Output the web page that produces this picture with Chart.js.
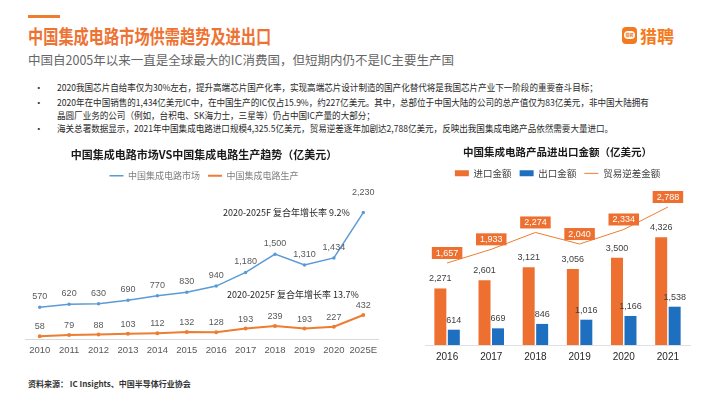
<!DOCTYPE html>
<html><head><meta charset="utf-8">
<script src="https://cdn.jsdelivr.net/npm/chart.js@4.4.0/dist/chart.umd.min.js"></script>
<style>
html,body{margin:0;padding:0;background:#fff;}
body{width:710px;height:399px;position:relative;overflow:hidden;font-family:"Noto Sans CJK SC","Noto Sans",sans-serif;}
.abs{position:absolute;white-space:nowrap;}
#topbar{left:28px;top:15px;width:32px;height:3px;background:#ED7D31;}
#title{left:28px;top:23px;font-size:19px;font-weight:700;color:#EE7232;transform:scaleX(0.8);transform-origin:left top;line-height:25px;}
#sub{left:28px;top:51px;font-size:12.5px;color:#666;line-height:18px;}
.bl{left:34px;font-size:9.5px;color:#333;line-height:13px;}
.bt{left:57px;font-size:9.5px;color:#2b2b2b;line-height:13px;transform:scaleX(0.9);transform-origin:left top;}
#logoIcon{left:622px;top:27px;width:15px;height:17px;background:#F47A20;border-radius:4px;}
#logoIcon span{position:absolute;left:2px;top:4px;width:11px;height:8px;background:#fff;border-radius:4px;font-size:4px;line-height:8px;color:#F47A20;text-align:center;font-weight:700;}
#logoText{left:640px;top:24px;font-size:17px;font-weight:700;color:#F47A20;line-height:24px;}
.ann{font-size:9px;color:#262626;line-height:12px;}
#src{left:28px;top:378px;font-size:8px;color:#333;font-weight:700;line-height:12px;}
canvas{position:absolute;}
</style>
</head>
<body>
<div class="abs" id="topbar"></div>
<div class="abs" id="title">中国集成电路市场供需趋势及进出口</div>
<div class="abs" id="sub">中国自2005年以来一直是全球最大的IC消费国，但短期内仍不是IC主要生产国</div>
<div class="abs" id="logoIcon"><span>猎聘</span></div>
<div class="abs" id="logoText">猎聘</div>
<div class="abs bl" style="top:81px">•</div>
<div class="abs bt" style="top:81px">2020我国芯片自给率仅为30%左右，提升高端芯片国产化率，实现高端芯片设计制造的国产化替代将是我国芯片产业下一阶段的重要奋斗目标；</div>
<div class="abs bl" style="top:96px">•</div>
<div class="abs bt" style="top:96px">2020年在中国销售的1,434亿美元IC中，在中国生产的IC仅占15.9%，约227亿美元。其中，总部位于中国大陆的公司的总产值仅为83亿美元，非中国大陆拥有</div>
<div class="abs bt" style="top:109px">晶圆厂业务的公司（例如，台积电、SK海力士，三星等）仍占中国IC产量的大部分；</div>
<div class="abs bl" style="top:122px">•</div>
<div class="abs bt" style="top:122px">海关总署数据显示，2021年中国集成电路进口规模4,325.5亿美元，贸易逆差逐年加剧达2,788亿美元，反映出我国集成电路产品依然需要大量进口。</div>

<canvas id="c1" width="384" height="232" style="left:0;top:140px;width:384px;height:232px"></canvas>
<canvas id="c2" width="310" height="232" style="left:400px;top:140px;width:310px;height:232px"></canvas>

<div class="abs ann" style="left:223px;top:207px">2020-2025F 复合年增长率 9.2%</div>
<div class="abs ann" style="left:227px;top:289px">2020-2025F 复合年增长率 13.7%</div>
<div class="abs" id="src">资料来源： IC Insights、中国半导体行业协会</div>

<script>
// ---- data ----
const years = ['2010','2011','2012','2013','2014','2015','2016','2017','2018','2019','2020','2025E'];
const marketValues = [570,620,630,690,770,830,940,1180,1500,1310,1434,2230];
const productionValues = [58,79,88,103,112,132,128,193,239,193,227,432];

const tradeYears = ['2016','2017','2018','2019','2020','2021'];
const importValues = [2271,2601,3121,3056,3500,4326];
const exportValues = [614,669,846,1016,1166,1538];
const deficitValues = [1657,1933,2274,2040,2334,2788];

// ---- styles ----
const NUM = '"Liberation Sans","Noto Sans CJK SC",sans-serif';
const CJK = '"Noto Sans CJK SC","Liberation Sans",sans-serif';
const ORANGE = '#ED7030';
const BLUE = '#1F6FC1';

const valueLabels = {
  id: 'valueLabels',
  afterDatasetsDraw(chart) {
    const ctx = chart.ctx;
    chart.data.datasets.forEach((ds, i) => {
      const st = ds.labelStyle;
      if (!st) return;
      const meta = chart.getDatasetMeta(i);
      meta.data.forEach((el, j) => {
        const txt = ds.data[j].toLocaleString('en-US');
        const off = (st.offsets && st.offsets[j] != null) ? st.offsets[j] : st.offset;
        const x = el.x, y = el.y - off;
        ctx.save();
        ctx.font = st.size + 'px ' + NUM;
        ctx.textAlign = 'center';
        ctx.textBaseline = 'middle';
        if (st.box) {
          const w = ctx.measureText(txt).width + 8;
          ctx.fillStyle = st.box;
          ctx.fillRect(x - w / 2, y - 6, w, 12);
          ctx.fillStyle = '#fff';
        } else {
          ctx.fillStyle = st.color;
        }
        ctx.fillText(txt, x, y + 0.5);
        ctx.restore();
      });
    });
  }
};

new Chart(document.getElementById('c1'), {
  type: 'line',
  data: {
    labels: years,
    datasets: [
      { label: '中国集成电路市场', data: marketValues, borderColor: '#5B9BD5', backgroundColor: '#5B9BD5',
        borderWidth: 1.5, pointRadius: 1, pointBorderWidth: 1.5, tension: 0,
        labelStyle: { size: 9, color: '#595959', offset: 11, offsets: [null,null,null,null,null,null,null,null,null,null,null,21] } },
      { label: '中国集成电路生产', data: productionValues, borderColor: '#ED7D31', backgroundColor: '#ED7D31',
        borderWidth: 2, pointRadius: 1, pointBorderWidth: 2, tension: 0,
        labelStyle: { size: 9, color: '#595959', offset: 10 } }
    ]
  },
  options: {
    responsive: false, animation: false,
    layout: { padding: { left: 25, right: 1, top: 0, bottom: 11 } },
    plugins: {
      title: { display: true, text: '中国集成电路市场VS中国集成电路生产趋势（亿美元）', color: '#1a1a1a',
        font: { size: 11, weight: 'bold', family: CJK }, padding: { top: 8, bottom: 2 } },
      legend: { labels: { usePointStyle: true, pointStyle: 'line', pointStyleWidth: 14, boxHeight: 9,
        font: { size: 9, family: CJK }, color: '#7F7F7F', padding: 8 } },
      tooltip: { enabled: false }
    },
    scales: {
      x: { offset: true, grid: { display: false, drawTicks: false }, border: { color: '#D9D9D9' },
        ticks: { font: { size: 9.5, family: NUM }, color: '#595959', padding: 5,
          maxRotation: 0, minRotation: 0, autoSkip: false } },
      y: { display: false, min: 0, max: 2623 }
    }
  },
  plugins: [valueLabels]
});

new Chart(document.getElementById('c2'), {
  data: {
    labels: tradeYears,
    datasets: [
      { type: 'bar', label: '进口金额', data: importValues, backgroundColor: ORANGE, pointStyle: 'rect',
        categoryPercentage: 0.61, barPercentage: 0.89, yAxisID: 'y',
        labelStyle: { size: 9, color: '#404040', offset: 10 } },
      { type: 'bar', label: '出口金额', data: exportValues, backgroundColor: BLUE, pointStyle: 'rect',
        categoryPercentage: 0.61, barPercentage: 0.89, yAxisID: 'y',
        labelStyle: { size: 9, color: '#404040', offset: 10 } },
      { type: 'line', label: '贸易逆差金额', data: deficitValues, borderColor: '#ED7D31', backgroundColor: '#ED7D31',
        borderWidth: 1, pointRadius: 0, pointStyle: 'line', tension: 0, yAxisID: 'y1', clip: false,
        labelStyle: { size: 9, box: '#ED7030', offset: 10 } }
    ]
  },
  options: {
    responsive: false, animation: false,
    layout: { padding: { left: 25, right: 20, top: 0, bottom: 3 } },
    plugins: {
      title: { display: true, text: '中国集成电路产品进出口金额（亿美元）', color: '#1a1a1a',
        font: { size: 10.5, weight: 'bold', family: CJK }, padding: { top: 6, bottom: 2 } },
      legend: { labels: { usePointStyle: true, pointStyleWidth: 14, boxHeight: 6,
        font: { size: 9.5, family: CJK }, color: '#404040', padding: 8 } },
      tooltip: { enabled: false }
    },
    scales: {
      x: { offset: true, grid: { display: false, drawTicks: false }, border: { color: '#E0E0E0' },
        ticks: { font: { size: 10, family: NUM }, color: '#262626', padding: 6 } },
      y: { display: false, min: 0, max: 6300 },
      y1: { display: false, min: 0, max: 3170 }
    }
  },
  plugins: [valueLabels]
});
</script>
</body></html>
